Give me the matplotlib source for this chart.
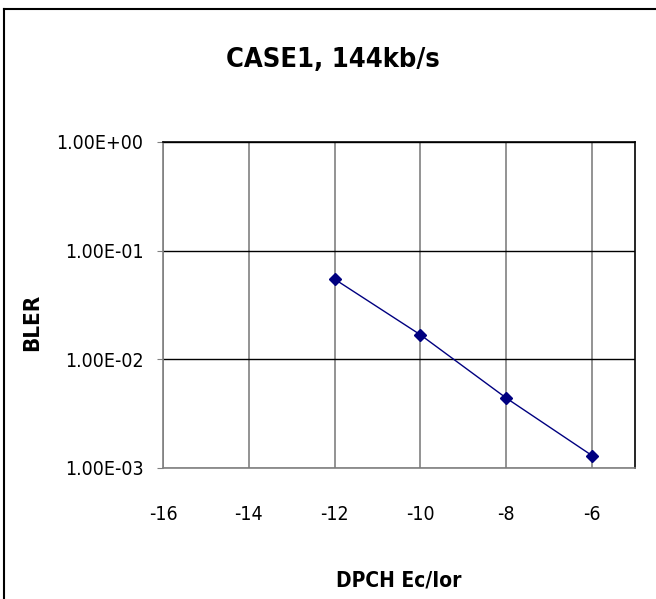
import numpy as np
import matplotlib.pyplot as plt
from matplotlib.lines import Line2D
from matplotlib.ticker import FixedLocator, NullLocator

### DATA ###

ec_ior = [-12, -10, -8, -6]
bler = [0.0546, 0.0168, 0.0044, 0.0013]

x_ticks = [-16, -14, -12, -10, -8, -6]
y_ticks = [1e0, 1e-1, 1e-2, 1e-3]
y_labels = ["1.00E+00", "1.00E-01", "1.00E-02", "1.00E-03"]

title = "CASE1, 144kb/s"

# narrow look, like the Excel original
plt.rcParams["font.family"] = ["DejaVu Sans"]
plt.rcParams["font.stretch"] = "condensed"

### PLOT ###

fig = plt.figure(figsize=(6.56, 5.99), dpi=100)
ax = fig.add_axes([0.2485, 0.2187, 0.7195, 0.5443])

ax.plot(ec_ior, bler, color="#000080", linewidth=1, marker="D",
        markersize=6, markerfacecolor="#000080", markeredgecolor="#000080",
        zorder=5)

ax.set_yscale("log")
ax.set_xlim(-16, -5)
ax.set_ylim(1e-3, 1e0)

ax.xaxis.set_major_locator(FixedLocator(x_ticks))
ax.yaxis.set_major_locator(FixedLocator(y_ticks))
ax.yaxis.set_minor_locator(NullLocator())
ax.set_yticklabels(y_labels)
ax.set_xticklabels([str(t) for t in x_ticks])

# gridlines: vertical grey, horizontal black
ax.grid(axis="x", color="#808080", linewidth=1.2)
ax.grid(axis="y", color="black", linewidth=1)
ax.set_axisbelow(True)

ax.spines["left"].set_color("#808080")
ax.spines["bottom"].set_color("#808080")
ax.spines["top"].set_color("black")
ax.spines["right"].set_color("black")
for s in ax.spines.values():
    s.set_linewidth(1.2)

ax.tick_params(axis="y", length=4, color="#808080", pad=10, labelsize=14)
ax.tick_params(axis="x", length=0, pad=27, labelsize=14)

ax.set_xlabel("DPCH Ec/Ior", fontsize=15, fontweight="bold", va="center")
ax.xaxis.set_label_coords(0.5, -0.3436)
ax.set_ylabel("BLER", fontsize=16, fontweight="bold", va="center")
ax.yaxis.set_label_coords(-0.2775, 0.448)
fig.text(0.508, 0.90, title, fontsize=19.5, fontweight="bold",
         ha="center", va="center")

# outer frame (top and left edges show in the original)
fig.add_artist(Line2D([0.0061, 1.0], [0.985, 0.985], transform=fig.transFigure,
                      color="black", linewidth=1.5))
fig.add_artist(Line2D([0.0061, 0.0061], [0.0, 0.985], transform=fig.transFigure,
                      color="black", linewidth=1.5))

fig.savefig("out.png", dpi=100)
